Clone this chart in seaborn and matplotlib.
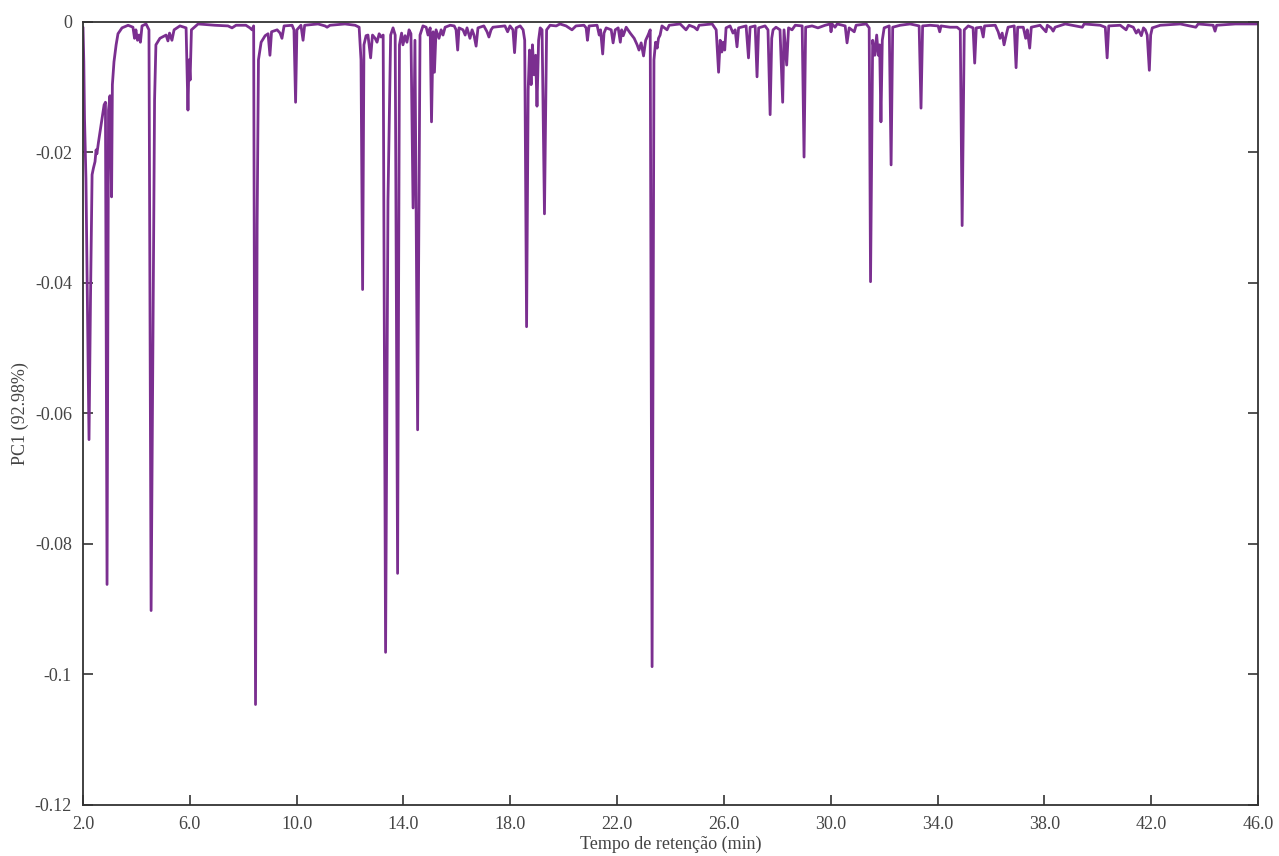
import matplotlib
matplotlib.use("Agg")
import matplotlib.pyplot as plt
import seaborn as sns
import pandas as pd

# Retention time (min) and PC1 loading of the chromatographic profile
rt = [
    2.00, 2.03, 2.056, 2.11, 2.225, 2.28, 2.34, 2.39, 2.45, 2.49,
    2.52, 2.58, 2.64, 2.71, 2.79, 2.84, 2.90, 2.955, 3.01, 3.07,
    3.10, 3.16, 3.24, 3.31, 3.46, 3.69, 3.87, 3.93, 3.98, 4.04,
    4.10, 4.15, 4.21, 4.36, 4.47, 4.55, 4.60, 4.64, 4.68, 4.73,
    4.88, 5.11, 5.18, 5.24, 5.33, 5.41, 5.63, 5.86, 5.90, 5.93,
    5.97, 6.01, 6.06, 6.31, 6.94, 7.43, 7.58, 7.73, 8.10, 8.25,
    8.33, 8.39, 8.46, 8.52, 8.57, 8.67, 8.82, 8.93, 9.00, 9.06,
    9.27, 9.38, 9.45, 9.53, 9.83, 9.90, 9.96, 10.01, 10.16, 10.24,
    10.30, 10.80, 11.06, 11.14, 11.25, 11.81, 12.19, 12.34, 12.41, 12.47,
    12.52, 12.60, 12.67, 12.77, 12.84, 12.94, 13.01, 13.09, 13.16, 13.24,
    13.33, 13.42, 13.52, 13.61, 13.69, 13.78, 13.85, 13.93, 13.98, 14.06,
    14.13, 14.21, 14.28, 14.36, 14.43, 14.53, 14.62, 14.73, 14.85, 14.92,
    15.00, 15.05, 15.11, 15.16, 15.22, 15.33, 15.41, 15.48, 15.56, 15.75,
    15.90, 15.97, 16.03, 16.08, 16.23, 16.31, 16.38, 16.49, 16.57, 16.64,
    16.72, 16.79, 17.01, 17.13, 17.20, 17.28, 17.35, 17.80, 17.90, 17.99,
    18.10, 18.16, 18.22, 18.37, 18.48, 18.54, 18.61, 18.67, 18.72, 18.78,
    18.83, 18.89, 18.95, 19.00, 19.06, 19.12, 19.19, 19.28, 19.36, 19.49,
    19.72, 19.86, 20.09, 20.31, 20.46, 20.76, 20.84, 20.89, 20.95, 21.25,
    21.33, 21.38, 21.46, 21.51, 21.59, 21.78, 21.85, 21.93, 22.04, 22.12,
    22.17, 22.23, 22.34, 22.49, 22.64, 22.75, 22.82, 22.90, 22.99, 23.07,
    23.16, 23.24, 23.31, 23.38, 23.44, 23.50, 23.55, 23.61, 23.68, 23.87,
    23.95, 24.36, 24.58, 24.70, 24.89, 25.00, 25.07, 25.56, 25.71, 25.80,
    25.86, 25.92, 25.97, 26.03, 26.08, 26.23, 26.34, 26.42, 26.49, 26.55,
    26.83, 26.92, 26.98, 27.17, 27.24, 27.30, 27.54, 27.65, 27.73, 27.79,
    27.84, 27.95, 28.10, 28.20, 28.25, 28.35, 28.42, 28.55, 28.67, 28.93,
    29.00, 29.06, 29.30, 29.52, 29.79, 29.98, 30.01, 30.05, 30.16, 30.24,
    30.54, 30.61, 30.69, 30.88, 30.95, 31.33, 31.44, 31.49, 31.57, 31.65,
    31.72, 31.78, 31.83, 31.88, 31.93, 32.00, 32.19, 32.26, 32.32, 32.60,
    32.97, 33.31, 33.38, 33.44, 33.72, 34.02, 34.08, 34.13, 34.47, 34.73,
    34.85, 34.92, 35.00, 35.15, 35.33, 35.39, 35.45, 35.63, 35.71, 35.76,
    36.16, 36.27, 36.34, 36.42, 36.49, 36.57, 36.64, 36.87, 36.94, 37.00,
    37.21, 37.30, 37.36, 37.45, 37.51, 37.84, 38.06, 38.11, 38.25, 38.33,
    38.40, 38.78, 39.42, 39.49, 40.09, 40.28, 40.35, 40.41, 40.84, 41.06,
    41.14, 41.33, 41.44, 41.52, 41.63, 41.71, 41.78, 41.85, 41.93, 41.98,
    42.04, 42.34, 43.09, 43.67, 43.76, 44.32, 44.39, 44.45, 45.15, 46.00,
]

pc1 = [
    -0.0008, -0.0061, -0.0147, -0.0240, -0.0640, -0.0426, -0.0234, -0.0224, -0.0214, -0.0196,
    -0.0202, -0.0184, -0.0168, -0.0150, -0.0127, -0.0123, -0.0862, -0.0135, -0.0113, -0.0268,
    -0.0096, -0.0061, -0.0035, -0.0018, -0.0009, -0.0005, -0.0008, -0.0025, -0.0012, -0.0028,
    -0.0020, -0.0031, -0.0006, -0.0003, -0.0012, -0.0902, -0.0594, -0.0368, -0.0119, -0.0035,
    -0.0025, -0.0020, -0.0029, -0.0017, -0.0028, -0.0012, -0.0006, -0.0009, -0.0081, -0.0135,
    -0.0058, -0.0089, -0.0012, -0.0003, -0.0005, -0.0006, -0.0009, -0.0005, -0.0005, -0.0009,
    -0.0012, -0.0006, -0.1046, -0.0311, -0.0058, -0.0031, -0.0021, -0.0018, -0.0051, -0.0015,
    -0.0012, -0.0017, -0.0025, -0.0006, -0.0005, -0.0012, -0.0123, -0.0012, -0.0005, -0.0028,
    -0.0005, -0.0003, -0.0006, -0.0008, -0.0005, -0.0003, -0.0005, -0.0008, -0.0058, -0.0410,
    -0.0035, -0.0021, -0.0020, -0.0055, -0.0020, -0.0025, -0.0031, -0.0018, -0.0023, -0.0020,
    -0.0966, -0.0273, -0.0020, -0.0009, -0.0020, -0.0845, -0.0035, -0.0017, -0.0035, -0.0021,
    -0.0031, -0.0012, -0.0018, -0.0285, -0.0028, -0.0625, -0.0020, -0.0006, -0.0008, -0.0020,
    -0.0009, -0.0153, -0.0015, -0.0077, -0.0012, -0.0025, -0.0012, -0.0020, -0.0008, -0.0005,
    -0.0006, -0.0012, -0.0043, -0.0009, -0.0012, -0.0020, -0.0009, -0.0025, -0.0012, -0.0020,
    -0.0037, -0.0009, -0.0006, -0.0015, -0.0023, -0.0012, -0.0008, -0.0006, -0.0015, -0.0006,
    -0.0012, -0.0047, -0.0009, -0.0006, -0.0012, -0.0028, -0.0467, -0.0104, -0.0043, -0.0096,
    -0.0035, -0.0081, -0.0051, -0.0129, -0.0028, -0.0009, -0.0012, -0.0294, -0.0012, -0.0005,
    -0.0006, -0.0003, -0.0006, -0.0012, -0.0006, -0.0005, -0.0009, -0.0028, -0.0006, -0.0005,
    -0.0020, -0.0012, -0.0049, -0.0017, -0.0009, -0.0012, -0.0032, -0.0012, -0.0009, -0.0031,
    -0.0012, -0.0021, -0.0008, -0.0017, -0.0025, -0.0035, -0.0043, -0.0032, -0.0052, -0.0028,
    -0.0020, -0.0012, -0.0988, -0.0058, -0.0031, -0.0040, -0.0025, -0.0020, -0.0006, -0.0012,
    -0.0005, -0.0003, -0.0012, -0.0005, -0.0008, -0.0012, -0.0005, -0.0003, -0.0012, -0.0077,
    -0.0028, -0.0046, -0.0031, -0.0043, -0.0009, -0.0006, -0.0017, -0.0012, -0.0038, -0.0009,
    -0.0006, -0.0055, -0.0008, -0.0006, -0.0084, -0.0009, -0.0006, -0.0012, -0.0142, -0.0025,
    -0.0012, -0.0008, -0.0012, -0.0123, -0.0012, -0.0066, -0.0009, -0.0012, -0.0005, -0.0006,
    -0.0207, -0.0008, -0.0006, -0.0009, -0.0005, -0.0003, -0.0015, -0.0003, -0.0008, -0.0003,
    -0.0006, -0.0032, -0.0009, -0.0015, -0.0005, -0.0003, -0.0009, -0.0398, -0.0028, -0.0051,
    -0.0020, -0.0051, -0.0035, -0.0153, -0.0028, -0.0009, -0.0006, -0.0219, -0.0008, -0.0005,
    -0.0003, -0.0006, -0.0132, -0.0006, -0.0005, -0.0006, -0.0015, -0.0006, -0.0008, -0.0008,
    -0.0012, -0.0312, -0.0012, -0.0006, -0.0009, -0.0063, -0.0009, -0.0008, -0.0023, -0.0006,
    -0.0005, -0.0015, -0.0025, -0.0017, -0.0035, -0.0020, -0.0008, -0.0006, -0.0070, -0.0008,
    -0.0008, -0.0025, -0.0012, -0.0040, -0.0008, -0.0005, -0.0015, -0.0005, -0.0009, -0.0014,
    -0.0008, -0.0003, -0.0008, -0.0003, -0.0005, -0.0008, -0.0055, -0.0006, -0.0005, -0.0012,
    -0.0005, -0.0008, -0.0017, -0.0012, -0.0021, -0.0009, -0.0012, -0.0020, -0.0074, -0.0020,
    -0.0009, -0.0005, -0.0003, -0.0008, -0.0003, -0.0005, -0.0014, -0.0005, -0.0003, -0.0003,
]

x_ticks = [2, 6, 10, 14, 18, 22, 26, 30, 34, 38, 42, 46]
x_tick_labels = ["2.0", "6.0", "10.0", "14.0", "18.0", "22.0", "26.0",
                 "30.0", "34.0", "38.0", "42.0", "46.0"]
y_ticks = [0, -0.02, -0.04, -0.06, -0.08, -0.10, -0.12]
y_tick_labels = ["0", "-0.02", "-0.04", "-0.06", "-0.08", "-0.1", "-0.12"]

x_label = "Tempo de retenção (min)"
y_label = "PC1 (92.98%)"
line_color = "#7b2f90"

sns.set_theme(style="ticks")
plt.rcParams["font.family"] = ["Liberation Serif", "DejaVu Serif"]
plt.rcParams["axes.unicode_minus"] = False

df = pd.DataFrame({"rt": rt, "pc1": pc1})

fig = plt.figure(figsize=(12.79, 8.56), dpi=100)
ax = fig.add_axes([0.0649, 0.0596, 0.9187, 0.9147])

sns.lineplot(data=df, x="rt", y="pc1", ax=ax, color=line_color,
             linewidth=2.0, estimator=None, sort=False)

ax.set_xlim(2, 46)
ax.set_ylim(-0.12, 0)
ax.set_xticks(x_ticks)
ax.set_xticklabels(x_tick_labels)
ax.set_yticks(y_ticks)
ax.set_yticklabels(y_tick_labels)

ax.tick_params(axis="both", direction="in", length=7, width=1.2,
               color="#333333", labelsize=13, labelcolor="#444444")
ax.tick_params(axis="x", pad=8)
ax.tick_params(axis="y", pad=8, right=True)

for side in ["left", "right", "top", "bottom"]:
    ax.spines[side].set_visible(True)
    ax.spines[side].set_color("#333333")
    ax.spines[side].set_linewidth(1.3)

ax.set_xlabel(x_label, fontsize=13, color="#444444", labelpad=2)
ax.set_ylabel(y_label, fontsize=13, color="#444444", labelpad=4)

fig.savefig("out.png", dpi=100)
